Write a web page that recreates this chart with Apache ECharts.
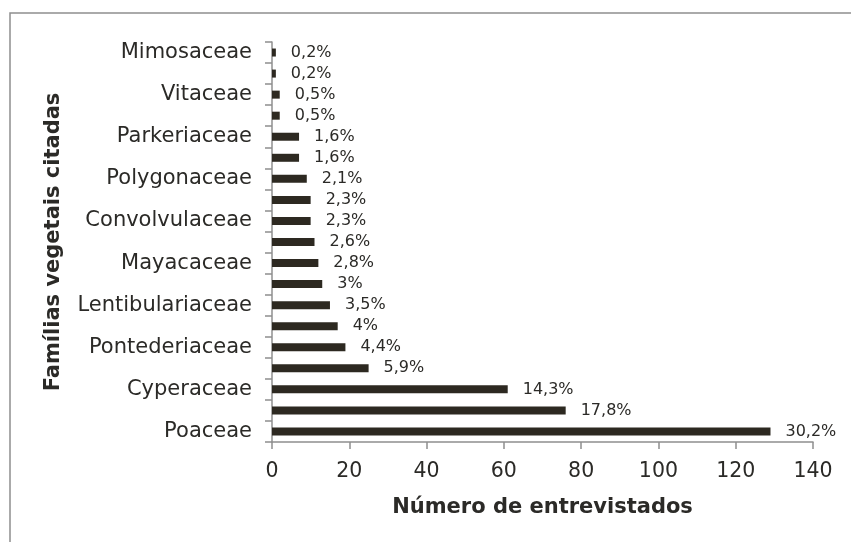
<!DOCTYPE html>
<html>
<head>
<meta charset="utf-8">
<title>Famílias vegetais citadas</title>
<script src="https://cdn.jsdelivr.net/npm/echarts@6/dist/echarts.min.js"></script>
<style>
    html, body { margin: 0; padding: 0; background: #fff; }
    #chart { width: 851px; height: 542px; }
</style>
</head>
<body>
<div id="chart"></div>
<script>
// de baixo para cima; as famílias sem rótulo no original ficam vazias
const familias = [
    "Poaceae", "", "Cyperaceae", "", "Pontederiaceae", "", "Lentibulariaceae", "",
    "Mayacaceae", "", "Convolvulaceae", "", "Polygonaceae", "", "Parkeriaceae", "",
    "Vitaceae", "", "Mimosaceae"
];
const entrevistados = [129, 76, 61, 25, 19, 17, 15, 13, 12, 11, 10, 10, 9, 7, 7, 2, 2, 1, 1];
const percentuais = [
    "30,2%", "17,8%", "14,3%", "5,9%", "4,4%", "4%", "3,5%", "3%", "2,8%", "2,6%",
    "2,3%", "2,3%", "2,1%", "1,6%", "1,6%", "0,5%", "0,5%", "0,2%", "0,2%"
];
const xTicks = [0, 140, 20];

(function() {
    const font = "DejaVu Sans, Verdana, sans-serif",
        txt = "#2b2a27",
        axisColor = "#8f8f8f";

    let chart = echarts.init(document.getElementById("chart"), null, { renderer: "canvas" });

    chart.setOption({
        animation: false,
        backgroundColor: "#fff",
        textStyle: { fontFamily: font, color: txt },
        graphic: [{
            type: "rect",
            shape: { x: 10, y: 13, width: 1000, height: 800 },
            style: { fill: "none", stroke: axisColor, lineWidth: 1.5 },
            silent: true
        }],
        grid: { left: 272, right: 38, top: 42, bottom: 100 },
        xAxis: {
            type: "value",
            min: xTicks[0],
            max: xTicks[1],
            interval: xTicks[2],
            name: "Número de entrevistados",
            nameLocation: "middle",
            nameGap: 55,
            nameTextStyle: { fontFamily: font, fontSize: 21, fontWeight: "bold", color: txt },
            axisLine: { show: true, lineStyle: { color: axisColor, width: 1.5 } },
            axisTick: { show: true, length: 7, lineStyle: { color: axisColor, width: 1.5 } },
            axisLabel: { fontFamily: font, fontSize: 20.5, color: txt, margin: 19 },
            splitLine: { show: false }
        },
        yAxis: {
            type: "category",
            data: familias,
            name: "Famílias vegetais citadas",
            nameLocation: "middle",
            nameGap: 208,
            nameTextStyle: { fontFamily: font, fontSize: 21, fontWeight: "bold", color: txt },
            axisLine: { show: true, lineStyle: { color: axisColor, width: 1.5 } },
            axisTick: { show: true, length: 7, interval: 0, lineStyle: { color: axisColor, width: 1.5 } },
            axisLabel: { interval: 1, fontFamily: font, fontSize: 21, color: txt, margin: 20 }
        },
        series: [{
            type: "bar",
            data: entrevistados,
            barWidth: 8,
            itemStyle: { color: "#2d2921" },
            label: {
                show: true,
                position: "right",
                distance: 15,
                fontFamily: font,
                fontSize: 16,
                color: txt,
                formatter: function(p) {
                    return percentuais[p.dataIndex];
                }
            }
        }]
    });
}());
</script>
</body>
</html>
